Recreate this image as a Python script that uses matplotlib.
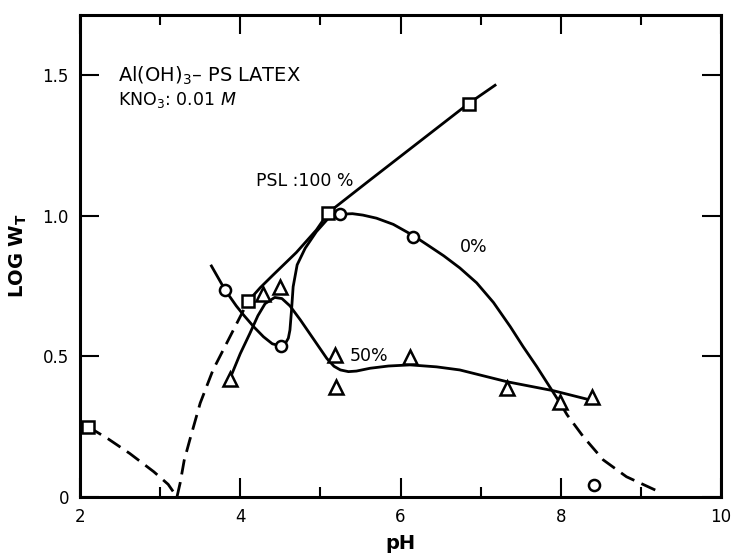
import matplotlib
matplotlib.use("Agg")
import matplotlib.pyplot as plt

plt.rcParams['font.family'] = ['DejaVu Sans']
plt.rcParams['mathtext.fontset'] = 'dejavusans'
plt.rcParams['mathtext.default'] = 'regular'

# measured points (pH, log W_T)
psl100_ph = [2.10, 4.10, 5.10, 6.85]
psl100_w = [0.25, 0.697, 1.012, 1.40]
psl0_ph = [3.81, 4.51, 5.24, 6.16, 8.41]
psl0_w = [0.737, 0.537, 1.006, 0.924, 0.043]
psl50_ph = [3.87, 4.29, 4.49, 5.18, 5.19, 6.12, 7.33, 7.99, 8.39]
psl50_w = [0.419, 0.722, 0.746, 0.505, 0.393, 0.499, 0.387, 0.339, 0.355]

# hand drawn curves
c100_low_ph = [2.10, 2.35, 2.62, 2.92, 3.10, 3.21]
c100_low_w = [0.25, 0.207, 0.155, 0.090, 0.045, 0.0]
c100_rise_ph = [3.21, 3.25, 3.30, 3.37, 3.50, 3.66, 3.83, 4.00, 4.10]
c100_rise_w = [0.0, 0.05, 0.13, 0.203, 0.334, 0.452, 0.547, 0.642, 0.697]
c100_ph = [4.10, 4.25, 4.41, 4.70, 4.95, 5.10, 5.62, 6.85, 7.18]
c100_w = [0.697, 0.745, 0.790, 0.870, 0.950, 1.012, 1.128, 1.40, 1.465]

c0_ph = [3.64, 3.81, 3.95, 4.04, 4.17, 4.29, 4.40, 4.51, 4.56, 4.60, 4.62,
         4.64, 4.66, 4.71, 4.81, 4.95, 5.10, 5.24, 5.40, 5.53, 5.70, 5.91,
         6.16, 6.33, 6.54, 6.74, 6.95, 7.16, 7.37, 7.53, 7.70, 7.90, 8.00]
c0_w = [0.822, 0.737, 0.68, 0.648, 0.605, 0.57, 0.545, 0.537, 0.545, 0.565,
        0.594, 0.665, 0.748, 0.826, 0.885, 0.944, 0.992, 1.006, 1.008, 1.003,
        0.992, 0.970, 0.930, 0.898, 0.858, 0.815, 0.762, 0.692, 0.606, 0.535,
        0.464, 0.375, 0.33]
c0_tail_ph = [8.00, 8.08, 8.28, 8.53, 8.82, 9.20]
c0_tail_w = [0.33, 0.292, 0.215, 0.132, 0.072, 0.022]

c50_ph = [3.89, 4.00, 4.12, 4.22, 4.31, 4.43, 4.52, 4.62, 4.75, 4.95, 5.08,
          5.17, 5.25, 5.35, 5.45, 5.62, 5.85, 6.12, 6.45, 6.74, 7.33, 7.91,
          8.37]
c50_w = [0.434, 0.51, 0.582, 0.645, 0.688, 0.710, 0.706, 0.680, 0.630, 0.547,
         0.493, 0.465, 0.452, 0.446, 0.448, 0.458, 0.466, 0.470, 0.463, 0.452,
         0.41, 0.378, 0.345]

fig = plt.figure(figsize=(7.32, 5.53), dpi=100)
ax = fig.add_axes([0.1093, 0.1013, 0.8757, 0.8716])

lw = 2.0
dash = (5.5, 2.8)
ax.plot(c100_low_ph, c100_low_w, 'k', lw=lw, dashes=dash)
ax.plot(c100_rise_ph, c100_rise_w, 'k', lw=lw, dashes=dash)
ax.plot(c100_ph, c100_w, 'k', lw=lw, solid_joinstyle='round')
ax.plot(c0_ph, c0_w, 'k', lw=lw, solid_joinstyle='round')
ax.plot(c0_tail_ph, c0_tail_w, 'k', lw=lw, dashes=dash)
ax.plot(c50_ph, c50_w, 'k', lw=lw, solid_joinstyle='round')

mk = dict(linestyle='none', mfc='white', mec='black', mew=1.8, zorder=5)
ax.plot(psl100_ph, psl100_w, marker='s', ms=8.5, **mk)
ax.plot(psl0_ph, psl0_w, marker='o', ms=8, **mk)
ax.plot(psl50_ph, psl50_w, marker='^', ms=9.5, **mk)

ax.text(2.475, 1.498, 'Al(OH)$_3$– PS LATEX', fontsize=14, va='center')
ax.text(2.475, 1.413, 'KNO$_3$: 0.01 $\\mathit{M}$', fontsize=12.5, va='center')
ax.text(4.20, 1.125, 'PSL :100 %', fontsize=12.5, va='center')
ax.text(6.74, 0.89, '0%', fontsize=12.5, va='center')
ax.text(5.37, 0.502, '50%', fontsize=12.5, va='center')

ax.set_xlim(2, 10)
ax.set_ylim(0, 1.715)
ax.set_xticks([2, 4, 6, 8, 10])
ax.set_xticks([3, 5, 7, 9], minor=True)
ax.set_yticks([0, 0.5, 1.0, 1.5], ['0', '0.5', '1.0', '1.5'])
ax.tick_params(which='both', direction='in', top=True, right=True,
               width=1.5, labelsize=12, pad=8)
ax.tick_params(which='major', length=14)
ax.tick_params(which='minor', length=7)
for s in ax.spines.values():
    s.set_linewidth(2.2)

ax.set_xlabel('pH', fontsize=14, fontweight='bold', labelpad=6)
ax.set_ylabel('LOG W$_T$', fontsize=14, fontweight='bold', labelpad=10)

fig.savefig('out.png', dpi=100)
